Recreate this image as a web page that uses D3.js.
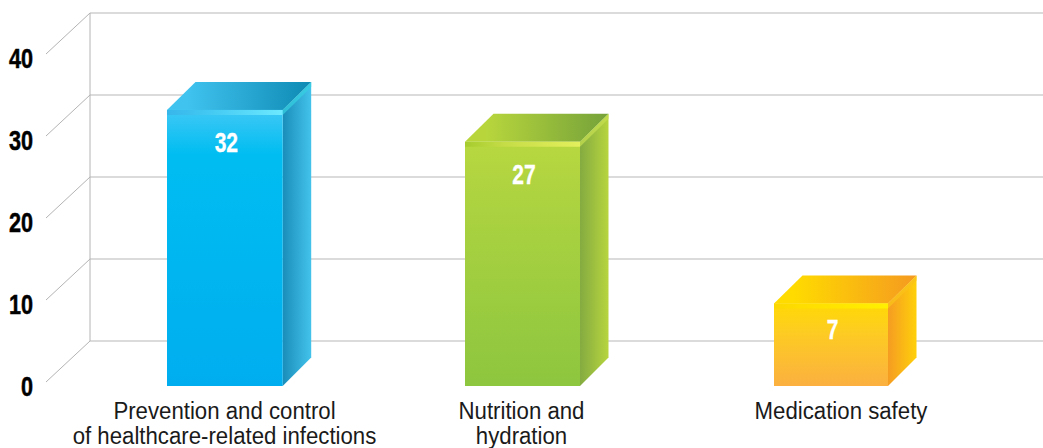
<!DOCTYPE html>
<html><head><meta charset="utf-8">
<script src="https://d3js.org/d3.v7.min.js"></script>
<style>html,body{margin:0;padding:0;background:#fff;overflow:hidden}svg{display:block}
text{font-family:"Liberation Sans",sans-serif}</style>
</head><body><svg id="c" width="1043" height="448"></svg>
<script>
const categories = ["Prevention and control|of healthcare-related infections","Nutrition and|hydration","Medication safety"];
const displayValues = [32,27,7];
// Bar-top level as read against the back wall of the axis (the source art is not exactly to scale)
const wallLevels = [31.6,27.7,8.0];
const yTicks = [0,10,20,30,40];
const barLefts = [167,465,774];
const barWidths = [115.7,115,114];
const labelCentres = [224.5,521.5,841];
const valueDrops = [42,42,35.5];
const palette = [
 {front:["#3fc8f5","#00bdf1","#00aeef"],frontMid:.16,band:["#37b6ea","#42c8f2","#6de9ff"],top:["#40c3ef","#0e8ab4"],side:["#1a8dba","#43c3ec"],edge:"#36cfe0"},
 {front:["#b8d83f","#b0d440","#8dc63f"],frontMid:.16,band:["#a6cc2f","#c6dd47","#e3ef5c"],top:["#b8d63c","#75a23a"],side:["#84ab41","#b7d53e"],edge:"#c4de50"},
 {front:["#ffd905","#fdcc22","#fbb040"],frontMid:.35,band:["#fcd700","#ffe000","#fff000"],top:["#ffdb00","#f59a20"],side:["#f59c22","#ffd00a"],edge:"#f9c31a"}
];
const W=1043,H=448,depth=28.5,floorFront=45,slantX=44,slantY=41;
const svg=d3.select("#c");
const y=d3.scaleLinear().domain([0,40]).range([341,13]);
const x=d3.scaleOrdinal().domain(categories).range(barLefts);
const labelX=d3.scaleOrdinal().domain(categories).range(labelCentres);
const wallX=90;

// axes / walls
const walls=svg.append("g");
walls.selectAll("line.g").data(yTicks).join("line").attr("class","g")
 .attr("x1",wallX).attr("x2",W).attr("y1",d=>y(d)).attr("y2",d=>y(d))
 .attr("stroke","#cfcfcf").attr("stroke-width",1.6);
walls.append("line").attr("x1",wallX).attr("x2",wallX).attr("y1",y(0)).attr("y2",y(40)).attr("stroke","#b4b4b4").attr("stroke-width",1);
walls.selectAll("line.d").data(yTicks).join("line").attr("class","d")
 .attr("x1",wallX).attr("y1",d=>y(d)).attr("x2",wallX-slantX).attr("y2",d=>y(d)+slantY)
 .attr("stroke","#b4b4b4").attr("stroke-width",1);
svg.append("g").selectAll("text").data(yTicks).join("text")
 .attr("transform",d=>`translate(33,${y(d)+55}) scale(0.76,1)`)
 .attr("text-anchor","end").attr("font-size",28.5).attr("font-weight",700)
 .attr("fill","#000").attr("stroke","#000").attr("stroke-width",0.5)
 .text(d=>d);

// gradients
const defs=svg.append("defs");
function grad(id,stops,x1,y1,x2,y2,offs){
 const g=defs.append("linearGradient").attr("id",id).attr("x1",x1).attr("y1",y1).attr("x2",x2).attr("y2",y2);
 stops.forEach((c,i)=>g.append("stop").attr("offset",offs?offs[i]:i/(stops.length-1)).attr("stop-color",c));
}
palette.forEach((p,i)=>{
 grad("f"+i,p.front,0,0,0,1,[0,p.frontMid,1]);
 grad("b"+i,p.band,0,0,1,0,[0,.35,1]);
 grad("t"+i,p.top,0,0.5,1,0.5,[.14,1]);
 grad("s"+i,p.side,0,0,1,0);
});

// bars
const data=categories.map((c,i)=>({c,i,v:displayValues[i],lvl:wallLevels[i],w:barWidths[i],drop:valueDrops[i]}));
const bars=svg.append("g").selectAll("g").data(data).join("g");
const poly=a=>a.map(p=>p.join(",")).join(" ");
bars.each(function(d){
 const g=d3.select(this),l=x(d.c),r=l+d.w,tb=y(d.lvl),tf=tb+depth-0.5,bot=y(0)+floorFront;
 g.append("polygon").attr("points",poly([[r,tf],[r+depth,tb],[r+depth,bot-depth],[r,bot]])).attr("fill",`url(#s${d.i})`);
 g.append("polygon").attr("points",poly([[l,tf],[l+depth,tb],[r+depth,tb],[r,tf]])).attr("fill",`url(#t${d.i})`);
 g.append("rect").attr("x",l).attr("y",tf).attr("width",d.w).attr("height",bot-tf).attr("fill",`url(#f${d.i})`);
 g.append("polygon").attr("points",poly([[l,tf],[r,tf],[r,tf+5],[l,tf+5]])).attr("fill",`url(#b${d.i})`);
 g.append("polygon").attr("points",poly([[r,tf+5],[r,tf],[r+depth,tb],[r+depth,tb+5]])).attr("fill",palette[d.i].edge).attr("opacity",.75);
 g.append("text").attr("transform",`translate(${l+d.w/2+1.5},${tf+d.drop}) scale(0.78,1)`).attr("text-anchor","middle")
  .attr("font-size",27).attr("font-weight",700).attr("fill","#fff").attr("stroke","#fff").attr("stroke-width",0.3).text(d.v);
});

// category labels
const labelLines=categories.flatMap(c=>c.split("|").map((t,i)=>({c,t,i})));
svg.append("g").selectAll("text").data(labelLines).join("text")
 .attr("transform",d=>`translate(${labelX(d.c)},${419+d.i*25}) scale(0.945,1)`)
 .attr("text-anchor","middle").attr("font-size",23.5).attr("fill","#1a1a1a")
 .text(d=>d.t);
</script></body></html>
